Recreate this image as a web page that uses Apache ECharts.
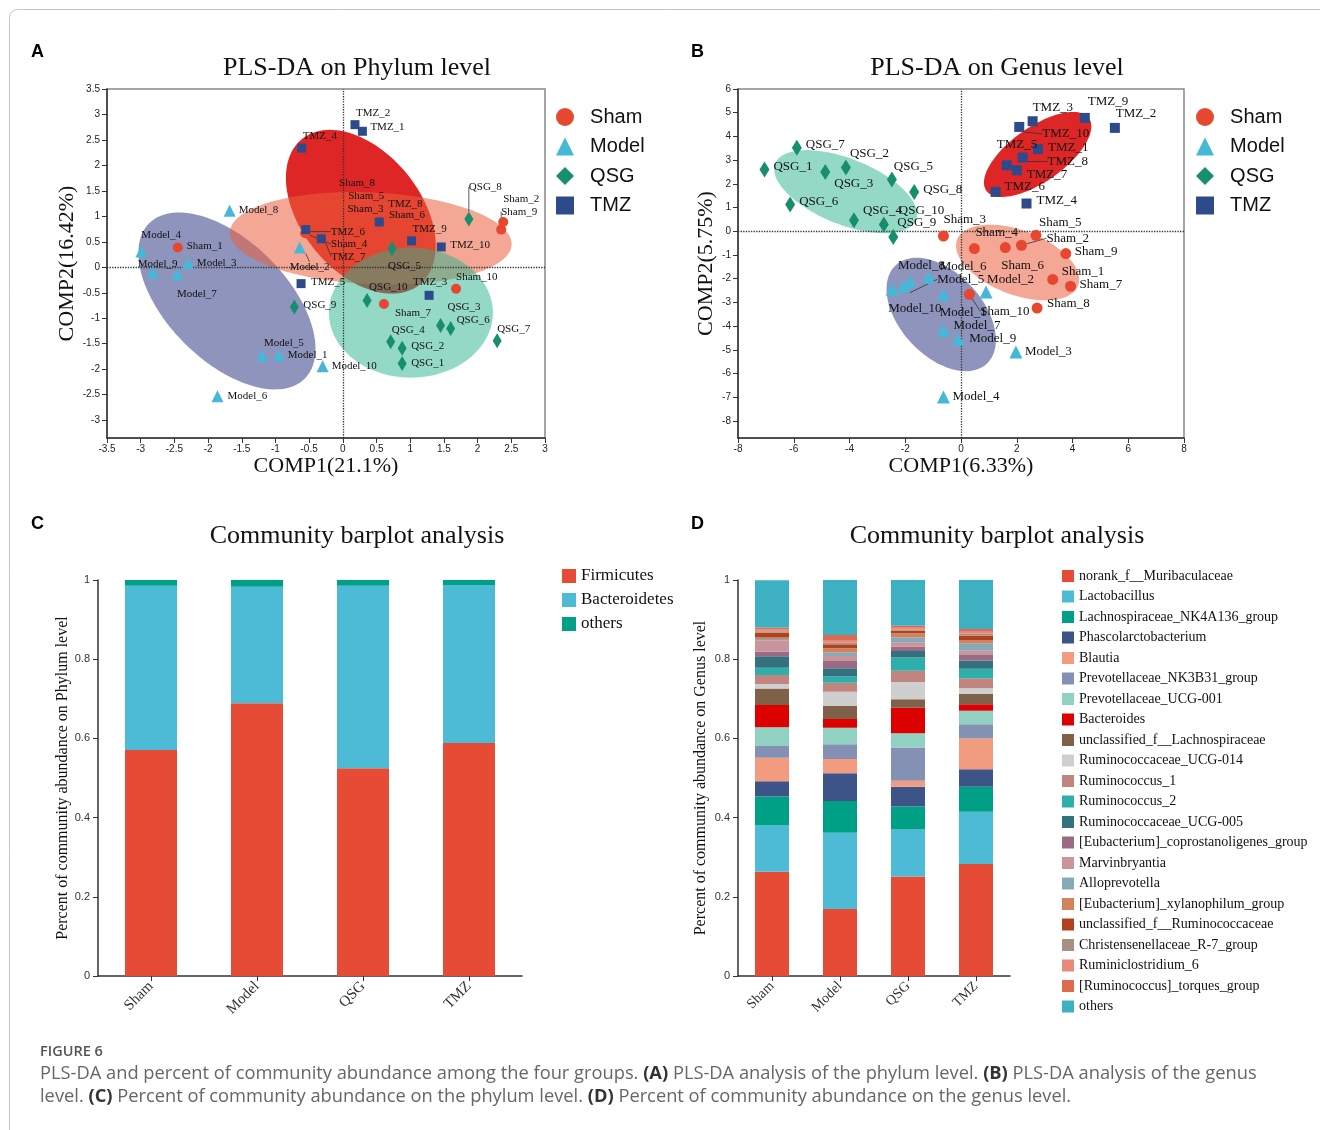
<!DOCTYPE html>
<html>
<head>
<meta charset="utf-8">
<script src="https://cdn.jsdelivr.net/npm/echarts@6/dist/echarts.min.js"></script>
<style>
html,body{margin:0;padding:0;background:#fff;}
#chart{width:1320px;height:1130px;}
</style>
</head>
<body>
<div id="chart"></div>
<script>
// ---------------- DATA ----------------
// Panel A: PLS-DA on phylum level, points indexed 1..10 per group [COMP1, COMP2]
const phylumSham  = [[-2.45,0.39],[2.38,0.89],[-0.17,1.07],[-0.56,0.67],[-0.07,1.26],[0.64,0.71],[0.61,-0.72],[-0.19,1.26],[2.35,0.74],[1.68,-0.42]];
const phylumModel = [[-0.95,-1.73],[-0.64,0.39],[-2.30,0.08],[-2.99,0.31],[-1.20,-1.73],[-1.86,-2.53],[-2.46,-0.14],[-1.68,1.11],[-2.82,-0.10],[-0.30,-1.94]];
const phylumQSG   = [[0.88,-1.89],[0.88,-1.59],[1.45,-1.14],[0.71,-1.46],[0.73,0.37],[1.60,-1.20],[2.29,-1.44],[1.87,0.95],[-0.72,-0.78],[0.36,-0.65]];
const phylumTMZ   = [[0.29,2.67],[0.18,2.80],[1.28,-0.55],[-0.61,2.34],[-0.62,-0.32],[-0.55,0.74],[-0.32,0.56],[0.54,0.89],[1.02,0.52],[1.46,0.40]];
// confidence ellipses: [centerX, centerY, semiAxis1X, semiAxis1Y, semiAxis2X, semiAxis2Y]
const phylumEllipseSham  = [0.415,0.57,2.09,-0.125,0.031,0.90];
const phylumEllipseModel = [-1.72,-0.66,1.154,-1.525,0.63,0.83];
const phylumEllipseQSG   = [1.01,-0.89,1.217,0,0,1.275];
const phylumEllipseTMZ   = [0.267,1.09,-0.872,1.43,0.69,0.735];

// Panel B: PLS-DA on genus level
const genusSham  = [[3.29,-2.03],[2.17,-0.59],[-0.63,-0.20],[0.48,-0.73],[2.69,-0.17],[1.59,-0.69],[3.93,-2.32],[2.73,-3.24],[3.76,-0.94],[0.30,-2.66]];
const genusModel = [[-0.62,-2.67],[0.90,-2.56],[1.97,-5.09],[-0.63,-6.99],[-2.07,-2.32],[-1.16,-1.95],[-0.63,-4.18],[-1.83,-2.14],[-0.10,-4.56],[-2.47,-2.45]];
const genusQSG   = [[-7.05,2.60],[-4.13,2.69],[-4.87,2.50],[-3.84,0.46],[-2.48,2.18],[-6.13,1.13],[-5.89,3.52],[-1.68,1.66],[-2.43,-0.24],[-2.77,0.28]];
const genusTMZ   = [[2.76,3.46],[5.52,4.36],[2.57,4.64],[2.35,1.17],[1.64,2.78],[1.24,1.66],[2.00,2.57],[2.21,3.11],[4.44,4.78],[2.09,4.40]];
const genusEllipseSham  = [2.03,-1.32,2.172,-0.966,0.408,1.27];
const genusEllipseModel = [-0.71,-3.51,1.631,-2.08,1.089,1.181];
const genusEllipseQSG   = [-4.14,1.67,2.527,-1.19,0.437,1.287];
const genusEllipseTMZ   = [2.75,3.24,1.843,1.527,-0.563,0.941];

// Axis tick values
const ticksAY = [-3,-2.5,-2,-1.5,-1,-0.5,0,0.5,1,1.5,2,2.5,3,3.5];
const ticksBY = [-8,-7,-6,-5,-4,-3,-2,-1,0,1,2,3,4,5,6];

// Panel C: phylum community barplot
const groups = ['Sham','Model','QSG','TMZ'];
const phylaNames = ['Firmicutes','Bacteroidetes','others'];
const firmicutes    = [0.5707,0.6886,0.5245,0.5884];
const bacteroidetes = [0.4150,0.2944,0.4612,0.3990];
const phylumOthers  = [0.0143,0.0170,0.0143,0.0126];

// Panel D: genus community barplot (bottom to top)
const genusNames = ['norank_f__Muribaculaceae','Lactobacillus','Lachnospiraceae_NK4A136_group','Phascolarctobacterium','Blautia','Prevotellaceae_NK3B31_group','Prevotellaceae_UCG-001','Bacteroides','unclassified_f__Lachnospiraceae','Ruminococcaceae_UCG-014','Ruminococcus_1','Ruminococcus_2','Ruminococcaceae_UCG-005','[Eubacterium]_coprostanoligenes_group','Marvinbryantia','Alloprevotella','[Eubacterium]_xylanophilum_group','unclassified_f__Ruminococcaceae','Christensenellaceae_R-7_group','Ruminiclostridium_6','[Ruminococcus]_torques_group','others'];
const abundSham  = [0.2635,0.1165,0.073,0.0386,0.0597,0.0297,0.047,0.0563,0.042,0.011,0.0226,0.0186,0.029,0.011,0.0295,0.003,0.0038,0.0117,0.004,0.0045,0.005,0.1195];
const abundModel = [0.169,0.193,0.080,0.070,0.036,0.037,0.042,0.022,0.0328,0.0362,0.0227,0.0153,0.021,0.0185,0.0125,0.0093,0.0102,0.0085,0.0058,0.005,0.0143,0.1389];
const abundQSG   = [0.251,0.119,0.058,0.050,0.015,0.084,0.036,0.0646,0.0211,0.0437,0.0286,0.033,0.0167,0.0109,0.011,0.0126,0.0101,0.007,0.003,0.006,0.0034,0.1153];
const abundTMZ   = [0.283,0.132,0.063,0.044,0.078,0.036,0.034,0.016,0.0261,0.0144,0.0252,0.0243,0.0203,0.0143,0.0109,0.0185,0.0085,0.0109,0.005,0.0051,0.0068,0.1237];

// ---------------- STYLE ----------------
const SERIF = '"Liberation Serif","Times New Roman",serif';
const SANS = '"Liberation Sans",Arial,sans-serif';
const groupStyle = {
  Sham:  {symbol:'circle',   color:'#e8472f', ell:'rgba(235,95,60,0.55)'},
  Model: {symbol:'triangle', color:'#45b8d8', ell:'rgba(60,70,140,0.58)'},
  QSG:   {symbol:'diamond',  color:'#178f6e', ell:'rgba(40,180,140,0.5)'},
  TMZ:   {symbol:'rect',     color:'#2d4a8a', ell:'rgba(220,20,20,0.92)'}
};
const sizesA = {Sham:10, Model:12, QSG:[9,15], TMZ:9};
const sizesB = {Sham:11, Model:13, QSG:[10,16], TMZ:10};
const phylaColors = ['#e64b35','#4dbbd5','#00a087'];
const genusColors = ['#e64b35','#4dbbd5','#00a087','#3c5488','#f39b7f','#8491b4','#91d1c2','#dc0000','#7e6148','#cfcfcf','#c0857f','#2eafac','#33717f','#9a6b84','#c9959c','#88aab8','#d3825a','#b0421f','#a89080','#e8897a','#de6a50','#3db0c2'];

// label placement (text left edge / vertical middle relative to the point, px)
const labelPosA = {'TMZ_2':[1,-12],'TMZ_1':[8,-4],'TMZ_4':[1,-12],'Sham_8':[9,-20],'Sham_5':[10,-7],'Sham_3':[16,-4],
 'TMZ_8':[9,-18],'Sham_6':[3,-16],'TMZ_9':[1,-12],'TMZ_10':[9,-2],'TMZ_6':[25,2],'Sham_4':[26,11],'TMZ_7':[10,18],
 'Model_2':[-10,20],'TMZ_5':[10,-2],'QSG_5':[-4,18],'QSG_10':[2,-13],'TMZ_3':[-16,-13],'Sham_10':[0,-12],'Sham_7':[11,9],
 'QSG_3':[7,-18],'QSG_6':[6,-8],'QSG_7':[0,-12],'QSG_4':[1,-12],'QSG_2':[9,-2],'QSG_1':[9,-1],'QSG_8':[0,-32],
 'Sham_2':[0,-23],'Sham_9':[0,-18],'QSG_9':[9,-2],'Model_10':[9,0],'Model_1':[9,0],'Model_5':[2,-12],'Model_6':[10,0],
 'Model_7':[0,20],'Model_9':[-15,-8],'Model_3':[9,0],'Sham_1':[9,-1],'Model_4':[0,-16],'Model_8':[9,-1]};
const linesA = ['TMZ_6','Sham_4','TMZ_7','Model_2','QSG_8','Sham_9'];
const labelPosB = {'QSG_7':[9,-3],'QSG_1':[9,-3],'QSG_2':[4,-14],'QSG_3':[9,12],'QSG_5':[2,-13],'QSG_8':[9,-2],'QSG_6':[9,-3],
 'QSG_4':[9,-10],'QSG_10':[15,-14],'QSG_9':[4,-14],'Sham_3':[0,-16],'Sham_4':[1,-16],'Sham_6':[-4,18],'Sham_2':[25,-7],
 'Sham_5':[3,-13],'Sham_9':[9,-2],'Sham_1':[9,-8],'Sham_7':[9,-2],'Sham_8':[10,-4],'Sham_10':[11,17],'TMZ_3':[0,-14],
 'TMZ_9':[3,-16],'TMZ_2':[1,-14],'TMZ_10':[23,7],'TMZ_1':[10,-2],'TMZ_5':[-10,-21],'TMZ_8':[25,4],'TMZ_7':[10,4],
 'TMZ_6':[9,-5],'TMZ_4':[10,-3],'Model_8':[-12,-16],'Model_6':[11,-11],'Model_5':[34,-7],'Model_2':[1,-12],
 'Model_10':[-4,19],'Model_1':[-4,18],'Model_7':[10,-5],'Model_9':[11,-1],'Model_3':[9,0],'Model_4':[9,0]};
const linesB = ['Sham_2','Sham_10','TMZ_10','TMZ_8','Model_5'];

// ---------------- BUILD ----------------
function ellipseSeries(name, params, axis, fill) {
  return {
    type:'custom', name:name, xAxisIndex:axis, yAxisIndex:axis, z:2, silent:true, animation:false,
    dimensions:['cx','cy','ux','uy','vx','vy'], encode:{x:0,y:1},
    data:[params],
    renderItem:function(p, api){
      const cx=api.value(0), cy=api.value(1), ux=api.value(2), uy=api.value(3), vx=api.value(4), vy=api.value(5);
      const pts=[];
      for(let k=0;k<120;k++){
        const t=2*Math.PI*k/120;
        pts.push(api.coord([cx+ux*Math.cos(t)+vx*Math.sin(t), cy+uy*Math.cos(t)+vy*Math.sin(t)]));
      }
      return {type:'polygon', shape:{points:pts}, style:{fill:fill, stroke:null}};
    }
  };
}
function scatterSeries(group, pts, axis, sizes, fontSize, posMap, lineList) {
  const st = groupStyle[group];
  return {
    type:'scatter', name:group, xAxisIndex:axis, yAxisIndex:axis, z:5, animation:false,
    symbol:st.symbol, symbolSize:sizes[group],
    itemStyle:{color:st.color, opacity:1},
    data:pts.map((p,i)=>{
      const nm = group+'_'+(i+1);
      return {value:p, name:nm, labelLine:{show: lineList.indexOf(nm)>=0}};
    }),
    label:{show:true, formatter:'{b}', fontFamily:SERIF, fontSize:fontSize, color:'#111'},
    labelLine:{show:false, lineStyle:{color:'#333', width:0.8}},
    labelLayout:function(prm){
      const off = posMap[prm.text] || [8,-1];
      const cx = prm.rect.x + prm.rect.width/2, cy = prm.rect.y + prm.rect.height/2;
      return {x:cx+off[0], y:cy+off[1], align:'left', verticalAlign:'middle', hideOverlap:false};
    }
  };
}
function zeroLines(axis){
  return {
    type:'scatter', name:'zero'+axis, xAxisIndex:axis, yAxisIndex:axis, data:[], z:1, silent:true,
    markLine:{silent:true, symbol:['none','none'], animation:false, label:{show:false},
      lineStyle:{type:'dotted', color:'#333', width:1.3},
      data:[{xAxis:0},{yAxis:0}]}
  };
}

const scatterAxisCommon = {
  axisLine:{onZero:false, lineStyle:{color:'#333', width:1.5}},
  axisTick:{show:true, length:5, lineStyle:{color:'#333', width:1}},
  splitLine:{show:false}
};
const tickLabel = {fontFamily:SANS, fontSize:10, color:'#222'};

const series = [];
series.push(zeroLines(0), zeroLines(1));
series.push(ellipseSeries('TMZ ellipse A', phylumEllipseTMZ, 0, groupStyle.TMZ.ell));
series.push(ellipseSeries('Model ellipse A', phylumEllipseModel, 0, groupStyle.Model.ell));
series.push(ellipseSeries('Sham ellipse A', phylumEllipseSham, 0, groupStyle.Sham.ell));
series.push(ellipseSeries('QSG ellipse A', phylumEllipseQSG, 0, groupStyle.QSG.ell));
series.push(ellipseSeries('TMZ ellipse B', genusEllipseTMZ, 1, groupStyle.TMZ.ell));
series.push(ellipseSeries('Model ellipse B', genusEllipseModel, 1, groupStyle.Model.ell));
series.push(ellipseSeries('Sham ellipse B', genusEllipseSham, 1, groupStyle.Sham.ell));
series.push(ellipseSeries('QSG ellipse B', genusEllipseQSG, 1, groupStyle.QSG.ell));
series.push(scatterSeries('Sham', phylumSham, 0, sizesA, 11, labelPosA, linesA));
series.push(scatterSeries('Model', phylumModel, 0, sizesA, 11, labelPosA, linesA));
series.push(scatterSeries('QSG', phylumQSG, 0, sizesA, 11, labelPosA, linesA));
series.push(scatterSeries('TMZ', phylumTMZ, 0, sizesA, 11, labelPosA, linesA));
series.push(scatterSeries('Sham', genusSham, 1, sizesB, 13, labelPosB, linesB));
series.push(scatterSeries('Model', genusModel, 1, sizesB, 13, labelPosB, linesB));
series.push(scatterSeries('QSG', genusQSG, 1, sizesB, 13, labelPosB, linesB));
series.push(scatterSeries('TMZ', genusTMZ, 1, sizesB, 13, labelPosB, linesB));

[firmicutes, bacteroidetes, phylumOthers].forEach((vals, i)=>{
  series.push({type:'bar', name:phylaNames[i], xAxisIndex:2, yAxisIndex:2, stack:'phy', barWidth:52,
    itemStyle:{color:phylaColors[i]}, data:vals, animation:false});
});
genusNames.forEach((g, i)=>{
  series.push({type:'bar', name: g==='others' ? 'others_genus' : g, xAxisIndex:3, yAxisIndex:3, stack:'gen', barWidth:34,
    itemStyle:{color:genusColors[i]}, data:[abundSham[i], abundModel[i], abundQSG[i], abundTMZ[i]], animation:false});
});

const barYAxis = (idx, name, gap) => ({
  type:'value', gridIndex:idx, min:0, max:1, interval:0.2,
  axisLine:{show:true, lineStyle:{color:'#333', width:1.5}},
  axisTick:{show:true, length:5, lineStyle:{color:'#333'}},
  axisLabel:{fontFamily:SANS, fontSize:11, color:'#333', margin:8},
  splitLine:{show:false},
  name:name, nameLocation:'middle', nameGap:gap, nameRotate:90,
  nameTextStyle:{fontFamily:SERIF, fontSize:16, color:'#111'}
});
const barXAxis = (idx, fs) => ({
  type:'category', gridIndex:idx, data:groups,
  axisLine:{lineStyle:{color:'#333', width:1.5}},
  axisTick:{show:true, alignWithLabel:true, length:5, lineStyle:{color:'#333'}},
  axisLabel:{rotate:45, fontFamily:SERIF, fontSize:fs, color:'#333', margin:8}
});

const capFont = '18.3px "Open Sans",sans-serif';
const capRich = {b:{fontWeight:'bold', fontFamily:'"Open Sans",sans-serif', fontSize:18.3, fill:'#333'}};

const option = {
  backgroundColor:'#fff',
  animation:false,
  grid:[
    {left:107, top:89, width:438, height:349, show:true, borderColor:'#888', borderWidth:1.5, backgroundColor:'transparent'},
    {left:738, top:89, width:446, height:349, show:true, borderColor:'#888', borderWidth:1.5, backgroundColor:'transparent'},
    {left:98, top:580, width:424, height:396},
    {left:738, top:580, width:272, height:396}
  ],
  xAxis:[
    Object.assign({type:'value', gridIndex:0, min:-3.5, max:3, interval:0.5,
      axisLabel:Object.assign({margin:6}, tickLabel),
      name:'COMP1(21.1%)', nameLocation:'middle', nameGap:16,
      nameTextStyle:{fontFamily:SERIF, fontSize:22, color:'#111'}}, scatterAxisCommon),
    Object.assign({type:'value', gridIndex:1, min:-8, max:8, interval:2,
      axisLabel:Object.assign({margin:6}, tickLabel),
      name:'COMP1(6.33%)', nameLocation:'middle', nameGap:16,
      nameTextStyle:{fontFamily:SERIF, fontSize:22, color:'#111'}}, scatterAxisCommon),
    barXAxis(2, 15),
    barXAxis(3, 14)
  ],
  yAxis:[
    Object.assign({type:'value', gridIndex:0, min:-3.35, max:3.5,
      axisLabel:Object.assign({margin:7, customValues:ticksAY}, tickLabel),
      name:'COMP2(16.42%)', nameLocation:'middle', nameGap:29, nameRotate:90,
      nameTextStyle:{fontFamily:SERIF, fontSize:22, color:'#111'}}, scatterAxisCommon,
      {axisTick:{show:true, length:5, customValues:ticksAY, lineStyle:{color:'#333'}}}),
    Object.assign({type:'value', gridIndex:1, min:-8.72, max:6,
      axisLabel:Object.assign({margin:7, customValues:ticksBY}, tickLabel),
      name:'COMP2(5.75%)', nameLocation:'middle', nameGap:21, nameRotate:90,
      nameTextStyle:{fontFamily:SERIF, fontSize:22, color:'#111'}}, scatterAxisCommon,
      {axisTick:{show:true, length:5, customValues:ticksBY, lineStyle:{color:'#333'}}}),
    barYAxis(2, 'Percent of community abundance on Phylum level', 27),
    barYAxis(3, 'Percent of community abundance on Genus level', 29)
  ],
  legend:[
    {orient:'vertical', left:556, top:107, padding:0, itemWidth:18, itemHeight:18, itemGap:9.5,
     data:['Sham','Model','QSG','TMZ'], formatter:function(n){return '  '+n;},
     textStyle:{fontFamily:SANS, fontSize:20, color:'#111'}, selectedMode:false},
    {orient:'vertical', left:1196, top:107, padding:0, itemWidth:18, itemHeight:18, itemGap:9.5,
     data:['Sham','Model','QSG','TMZ'], formatter:function(n){return '  '+n;},
     textStyle:{fontFamily:SANS, fontSize:20, color:'#111'}, selectedMode:false},
    {orient:'vertical', left:562, top:567.5, padding:0, itemWidth:14, itemHeight:14, itemGap:7, icon:'rect',
     data:phylaNames, textStyle:{fontFamily:SERIF, fontSize:17, color:'#111'}, selectedMode:false},
    {orient:'vertical', left:1062, top:569, padding:0, itemWidth:12, itemHeight:12, itemGap:6.5, icon:'rect',
     data:genusNames.map(g=> g==='others' ? 'others_genus' : g),
     formatter:function(n){ return n==='others_genus' ? 'others' : n; },
     textStyle:{fontFamily:SERIF, fontSize:14, color:'#111'}, selectedMode:false}
  ],
  graphic:[
    {type:'rect', shape:{x:9.5, y:9.5, width:1400, height:1300, r:8}, style:{fill:null, stroke:'#c4c4c4', lineWidth:1}, silent:true},
    {type:'text', x:31, y:52, style:{text:'A', font:'bold 18px '+SANS, fill:'#000', textVerticalAlign:'middle'}},
    {type:'text', x:691, y:52, style:{text:'B', font:'bold 18px '+SANS, fill:'#000', textVerticalAlign:'middle'}},
    {type:'text', x:31, y:524, style:{text:'C', font:'bold 18px '+SANS, fill:'#000', textVerticalAlign:'middle'}},
    {type:'text', x:691, y:524, style:{text:'D', font:'bold 18px '+SANS, fill:'#000', textVerticalAlign:'middle'}},
    {type:'text', x:357, y:68, style:{text:'PLS-DA on Phylum level', font:'26px '+SERIF, fill:'#111', textAlign:'center', textVerticalAlign:'middle'}},
    {type:'text', x:997, y:68, style:{text:'PLS-DA on Genus level', font:'26px '+SERIF, fill:'#111', textAlign:'center', textVerticalAlign:'middle'}},
    {type:'text', x:357, y:536, style:{text:'Community barplot analysis', font:'26px '+SERIF, fill:'#111', textAlign:'center', textVerticalAlign:'middle'}},
    {type:'text', x:997, y:536, style:{text:'Community barplot analysis', font:'26px '+SERIF, fill:'#111', textAlign:'center', textVerticalAlign:'middle'}},
    {type:'text', x:40, y:1052, style:{text:'FIGURE 6', font:'600 14.5px "Open Sans",sans-serif', fill:'#555', textVerticalAlign:'middle'}},
    {type:'text', x:40, y:1074, style:{
      text:'PLS-DA and percent of community abundance among the four groups. {b|(A)} PLS-DA analysis of the phylum level. {b|(B)} PLS-DA analysis of the genus',
      font:capFont, fill:'#666', textVerticalAlign:'middle', rich:capRich}},
    {type:'text', x:40, y:1097, style:{
      text:'level. {b|(C)} Percent of community abundance on the phylum level. {b|(D)} Percent of community abundance on the genus level.',
      font:capFont, fill:'#666', textVerticalAlign:'middle', rich:capRich}}
  ],
  series:series
};

const chart = echarts.init(document.getElementById('chart'), null, {renderer:'canvas'});
chart.setOption(option);
</script>
</body>
</html>
